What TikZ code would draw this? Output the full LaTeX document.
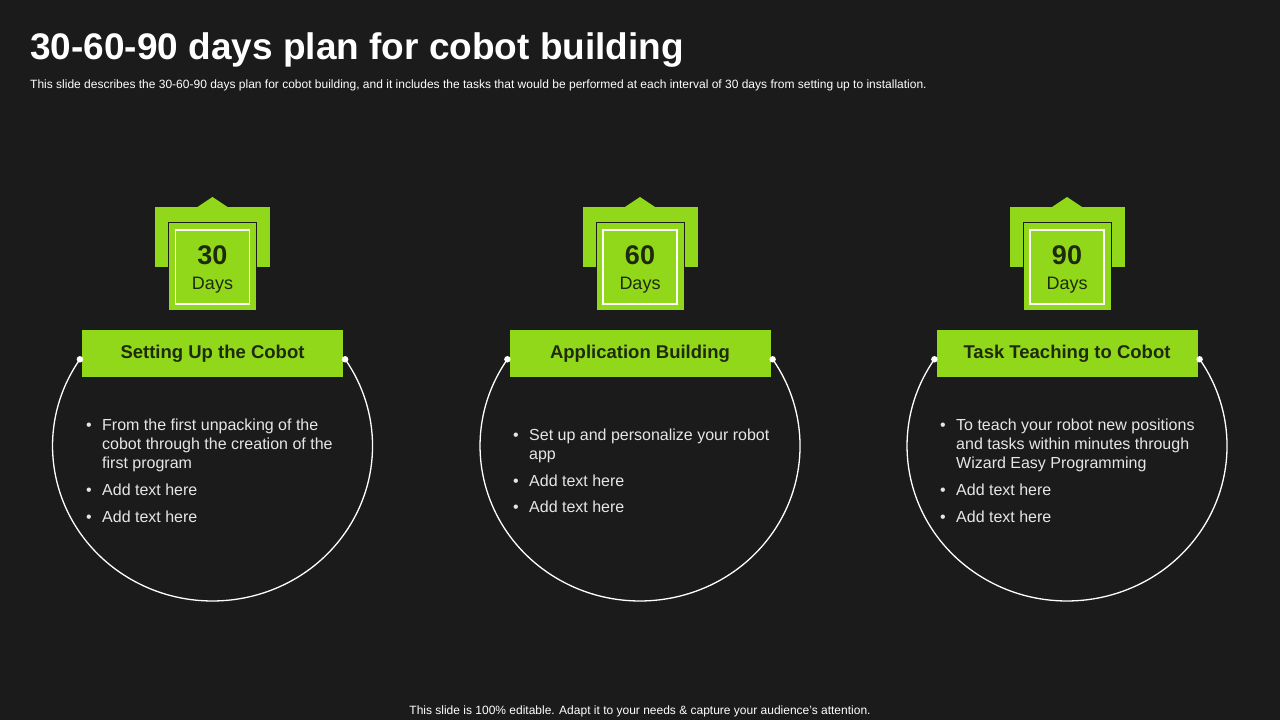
\documentclass[tikz,border=0pt]{standalone}
\usepackage{fontspec}
\setmainfont{Liberation Sans}
\definecolor{bg}{HTML}{1B1B1B}
\definecolor{lime}{HTML}{92D81A}
\definecolor{ink}{HTML}{1E2A0C}
\definecolor{txt}{HTML}{E6E6E6}
\tikzset{
  backbox/.style={fill=lime, draw=none, inner sep=0pt, minimum width=115, minimum height=60},
  frontbox/.style={fill=lime, draw=bg, line width=1pt, inner sep=0pt, minimum size=88},
  innerbox/.style={draw=white, line width=1.1pt, inner sep=0pt, minimum size=74},
  barbox/.style={fill=lime, inner sep=0pt, minimum width=261, minimum height=47, text=ink, font=\fontsize{18.5}{22}\selectfont\bfseries},
  ring/.style={draw=white, line width=1.3pt},
  dotmark/.style={circle, fill=white, inner sep=0pt, minimum size=6.5},
  bodytext/.style={anchor=base west, inner sep=0pt, text=txt, font=\fontsize{16}{19}\selectfont},
  numtext/.style={anchor=base, inner sep=0pt, text=ink, font=\fontsize{27}{30}\selectfont\bfseries},
  daystext/.style={anchor=base, inner sep=0pt, text=ink, font=\fontsize{18}{22}\selectfont},
}
\begin{document}
\begin{tikzpicture}[x=1pt,y=1pt]
\fill[bg] (0,0) rectangle (1280,720);
\useasboundingbox (0,0) rectangle (1280,720);

% title
\node[anchor=base west, inner sep=0pt, text=white, font=\fontsize{37}{40}\selectfont\bfseries] (title) at (30,660) {30-60-90 days plan for cobot building};
\node[anchor=base west, inner sep=0pt, text=white, font=\fontsize{12}{14}\selectfont] (subtitle) at (30,631) {This slide describes the 30-60-90 days plan for cobot building, and it includes the tasks that would be performed at each interval of 30 days from setting up to installation.};
\node[anchor=base, inner sep=0pt, text=white, font=\fontsize{12}{14}\selectfont] (footer) at (640,5) {This slide is 100\% editable. Adapt it to your needs \& capture your audience’s attention.};

\foreach \i/\cx/\num/\ttl in {1/212.5/30/Setting Up the Cobot, 2/640/60/Application Building, 3/1067/90/Task Teaching to Cobot}{
  % ring
  \coordinate (dl\i) at (\cx-132.6,360.7);
  \coordinate (dr\i) at (\cx+132.6,360.7);
  \draw[ring] (dl\i) arc[start angle=146, end angle=394, x radius=160, y radius=155];
  % badge
  \node[backbox] (back\i) at (\cx,483) {};
  \fill[lime] (\cx-16.5,512) -- (\cx,523) -- (\cx+16.5,512) -- cycle;
  \node[frontbox] (front\i) at (\cx,453) {};
  \node[innerbox] (inner\i) at (front\i) {};
  \node[numtext] (num\i) at (\cx,455) {\num};
  \node[daystext] (days\i) at (\cx,430.7) {Days};
  % bar
  \node[barbox] (bar\i) at (\cx,366) {\ttl};
  \node[dotmark] (dotl\i) at (dl\i) {};
  \node[dotmark] (dotr\i) at (dr\i) {};
}

% column 1
\node[bodytext] (c1b1) at (86,289) {•};
\node[bodytext] (c1l1) at (102,289) {From the first unpacking of the};
\node[bodytext] (c1l2) at (102,270) {cobot through the creation of the};
\node[bodytext] (c1l3) at (102,251.5) {first program};
\node[bodytext] (c1b2) at (86,224.3) {•};
\node[bodytext] (c1l4) at (102,224.3) {Add text here};
\node[bodytext] (c1b3) at (86,197.3) {•};
\node[bodytext] (c1l5) at (102,197.3) {Add text here};

% column 2
\node[bodytext] (c2b1) at (513,279) {•};
\node[bodytext] (c2l1) at (529,279) {Set up and personalize your robot};
\node[bodytext] (c2l2) at (529,260) {app};
\node[bodytext] (c2b2) at (513,233.5) {•};
\node[bodytext] (c2l3) at (529,233.5) {Add text here};
\node[bodytext] (c2b3) at (513,207) {•};
\node[bodytext] (c2l4) at (529,207) {Add text here};

% column 3
\node[bodytext] (c3b1) at (940,289) {•};
\node[bodytext] (c3l1) at (956,289) {To teach your robot new positions};
\node[bodytext] (c3l2) at (956,270) {and tasks within minutes through};
\node[bodytext] (c3l3) at (956,251.5) {Wizard Easy Programming};
\node[bodytext] (c3b2) at (940,224.3) {•};
\node[bodytext] (c3l4) at (956,224.3) {Add text here};
\node[bodytext] (c3b3) at (940,197.3) {•};
\node[bodytext] (c3l5) at (956,197.3) {Add text here};
\end{tikzpicture}
\end{document}
